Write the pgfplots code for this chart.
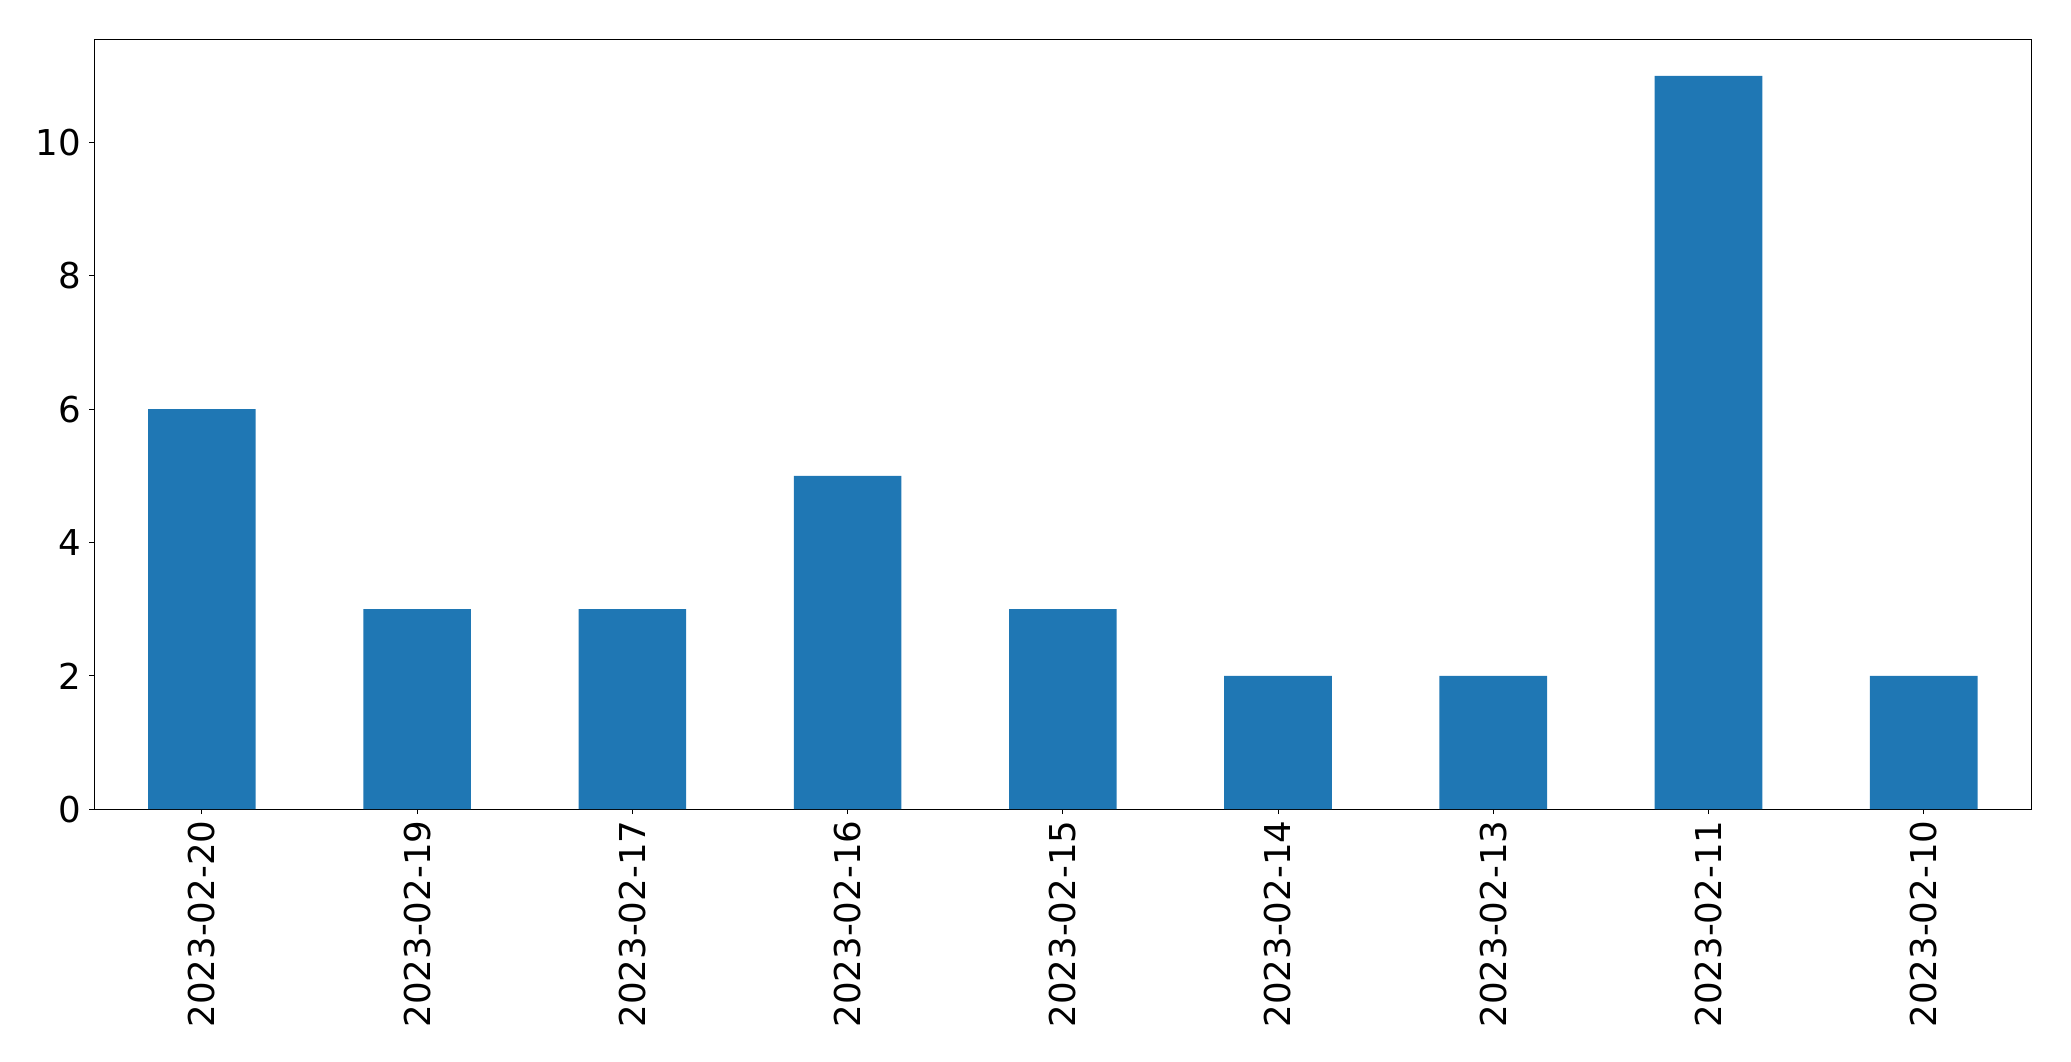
\documentclass[border=0pt]{standalone}
\usepackage{fontspec}
\setmainfont{DejaVu Sans}
\usepackage{pgfplots}
\pgfplotsset{compat=1.18}
\definecolor{mplblue}{HTML}{1F77B4}
\begin{document}
\fontsize{17.8}{21}\selectfont
\begin{tikzpicture}
\useasboundingbox (0,0) rectangle (1035.5pt,530.5pt);
\begin{axis}[
  at={(47.15pt,125.9pt)}, anchor=south west,
  scale only axis, width=968.5pt, height=385pt,
  xmin=-0.5, xmax=8.5, ymin=0, ymax=11.55,
  ytick={0,2,4,6,8,10},
  xtick={0,1,2,3,4,5,6,7,8},
  xticklabels={2023-02-20,2023-02-19,2023-02-17,2023-02-16,2023-02-15,2023-02-14,2023-02-13,2023-02-11,2023-02-10},
  tick align=outside, major tick length=2.5pt,
  tick style={black, line width=0.5pt},
  xtick pos=bottom, ytick pos=left,
  axis line style={line width=0.55pt},
  /pgf/number format/assume math mode=true,
  ticklabel style={font=\fontsize{17.8}{21}\selectfont},
  yticklabel style={anchor=east, inner sep=0pt, xshift=-3.8pt},
  xticklabel style={rotate=90, anchor=east, inner sep=0pt, xshift=-3pt},
]
\addplot[ybar, bar width=0.5, fill=mplblue, draw=none] coordinates {
(0,6) (1,3) (2,3) (3,5) (4,3) (5,2) (6,2) (7,11) (8,2)
};
\end{axis}
\end{tikzpicture}
\end{document}
